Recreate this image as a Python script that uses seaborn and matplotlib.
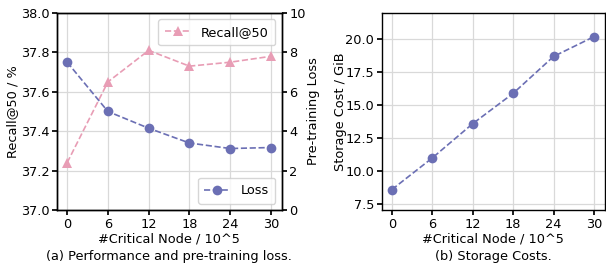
import matplotlib
matplotlib.use("Agg")
import matplotlib.pyplot as plt
import seaborn as sns
import pandas as pd

nodes = [0, 6, 12, 18, 24, 30]
recall = [37.24, 37.65, 37.81, 37.73, 37.75, 37.78]
loss = [7.5, 5.0, 4.15, 3.4, 3.12, 3.17]
storage = [8.6, 11.0, 13.6, 15.9, 18.7, 20.2]

BLUE = "#6b6fb4"
PINK = "#e89db5"

sns.set_theme(style="whitegrid", rc={
    "axes.edgecolor": "black",
    "axes.linewidth": 1.0,
    "grid.color": "#d9d9d9",
    "grid.linewidth": 0.9,
    "xtick.bottom": True,
    "ytick.left": True,
    "xtick.major.size": 3.5,
    "ytick.major.size": 3.5,
    "xtick.color": "black",
    "ytick.color": "black",
    "axes.labelcolor": "black",
    "text.color": "black",
})
plt.rcParams["font.family"] = ["DejaVu Sans"]
FS = 9.3

df = pd.DataFrame({"nodes": nodes, "recall": recall, "loss": loss, "storage": storage})

fig = plt.figure(figsize=(6.06, 2.67), dpi=100)
ax1 = fig.add_axes([0.094, 0.2135, 0.371, 0.738])
ax3 = fig.add_axes([0.630, 0.2135, 0.368, 0.738])

sns.lineplot(data=df, x="nodes", y="recall", ax=ax1, color=PINK, linestyle="--",
             marker="^", markersize=7, markeredgewidth=0, linewidth=1.2, label="Recall@50")
ax1.set_ylim(37.0, 38.0)
ax1.set_yticks([37.0, 37.2, 37.4, 37.6, 37.8, 38.0])
ax1.set_xticks(nodes)
ax1.set_xlim(-1.5, 31.6)
ax1.set_ylabel("Recall@50 / %", fontsize=FS, labelpad=1.5)
ax1.set_xlabel("#Critical Node / 10^5", fontsize=FS, labelpad=1)
ax1.tick_params(labelsize=FS, pad=2)
ax1.legend(loc="upper right", fontsize=FS, handlelength=2.0, borderpad=0.5)

ax2 = ax1.twinx()
sns.lineplot(data=df, x="nodes", y="loss", ax=ax2, color=BLUE, linestyle="--",
             marker="o", markersize=7, markeredgewidth=0, linewidth=1.2, label="Loss")
ax2.set_ylim(0, 10)
ax2.set_yticks([0, 2, 4, 6, 8, 10])
ax2.grid(False)
ax2.set_ylabel("Pre-training Loss", fontsize=FS, labelpad=1)
ax2.tick_params(labelsize=FS, pad=2, right=True)
ax2.legend(loc="lower right", fontsize=FS, handlelength=2.0, borderpad=0.5)

sns.lineplot(data=df, x="nodes", y="storage", ax=ax3, color=BLUE, linestyle="--",
             marker="o", markersize=7, markeredgewidth=0, linewidth=1.2)
ax3.set_ylim(7.05, 22.0)
ax3.set_yticks([7.5, 10.0, 12.5, 15.0, 17.5, 20.0])
ax3.set_xticks(nodes)
ax3.set_xlim(-1.5, 31.6)
ax3.set_ylabel("Storage Cost / GiB", fontsize=FS, labelpad=-1)
ax3.set_xlabel("#Critical Node / 10^5", fontsize=FS, labelpad=1)
ax3.tick_params(labelsize=FS, pad=2)

fig.text(0.094 + 0.371 / 2, 0.041, "(a) Performance and pre-training loss.", ha="center", va="center", fontsize=FS)
fig.text(0.630 + 0.368 / 2, 0.041, "(b) Storage Costs.", ha="center", va="center", fontsize=FS)

fig.savefig("out.png", dpi=100)
